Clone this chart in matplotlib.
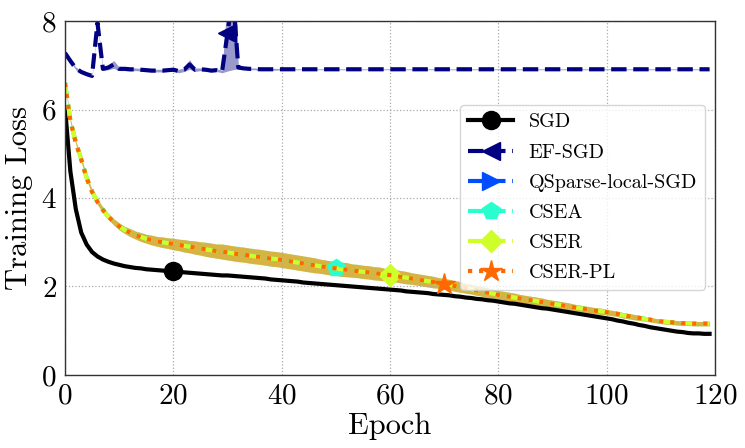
import matplotlib
matplotlib.use("Agg")
import matplotlib.pyplot as plt
import numpy as np

plt.rcParams["font.family"] = "serif"
plt.rcParams["font.serif"] = ["cmr10"]
plt.rcParams["mathtext.fontset"] = "cm"
plt.rcParams["axes.formatter.use_mathtext"] = True

epochs = list(range(120))

sgd_loss = [
    6.05, 4.60, 3.75, 3.22, 2.95, 2.78, 2.68, 2.61, 2.56, 2.52,
    2.49, 2.46, 2.44, 2.42, 2.41, 2.39, 2.38, 2.37, 2.36, 2.35,
    2.34, 2.33, 2.32, 2.31, 2.30, 2.29, 2.28, 2.27, 2.26, 2.25,
    2.25, 2.24, 2.23, 2.22, 2.21, 2.20, 2.19, 2.18, 2.16, 2.15,
    2.14, 2.13, 2.12, 2.11, 2.09, 2.08, 2.07, 2.06, 2.05, 2.04,
    2.03, 2.02, 2.01, 2.00, 1.99, 1.98, 1.97, 1.96, 1.95, 1.94,
    1.93, 1.92, 1.91, 1.89, 1.88, 1.87, 1.86, 1.85, 1.83, 1.82,
    1.81, 1.80, 1.78, 1.77, 1.75, 1.74, 1.72, 1.71, 1.69, 1.68,
    1.66, 1.64, 1.62, 1.61, 1.59, 1.57, 1.55, 1.53, 1.51, 1.50,
    1.48, 1.46, 1.44, 1.42, 1.40, 1.38, 1.36, 1.34, 1.32, 1.30,
    1.28, 1.26, 1.23, 1.21, 1.18, 1.16, 1.13, 1.11, 1.08, 1.06,
    1.04, 1.02, 1.00, 0.98, 0.97, 0.95, 0.94, 0.94, 0.93, 0.93,
]

efsgd_loss = [
    7.28, 7.10, 6.93, 6.85, 6.80, 6.76, 7.96, 6.92, 6.95, 7.02,
    6.92, 6.92, 6.91, 6.91, 6.90, 6.89, 6.88, 6.88, 6.88, 6.89,
    6.90, 6.87, 6.90, 7.02, 6.90, 6.91, 6.90, 6.88, 6.89, 6.86,
    7.72, 8.60, 6.95, 6.93, 6.92, 6.92, 6.91, 6.91, 6.91, 6.91,
    6.91, 6.91, 6.91, 6.91, 6.91, 6.91, 6.91, 6.91, 6.91, 6.91,
    6.91, 6.91, 6.91, 6.91, 6.91, 6.91, 6.91, 6.91, 6.91, 6.91,
    6.91, 6.91, 6.91, 6.91, 6.91, 6.91, 6.91, 6.91, 6.91, 6.91,
    6.91, 6.91, 6.91, 6.91, 6.91, 6.91, 6.91, 6.91, 6.91, 6.91,
    6.91, 6.91, 6.91, 6.91, 6.91, 6.91, 6.91, 6.91, 6.91, 6.91,
    6.91, 6.91, 6.91, 6.91, 6.91, 6.91, 6.91, 6.91, 6.91, 6.91,
    6.91, 6.91, 6.91, 6.91, 6.91, 6.91, 6.91, 6.91, 6.91, 6.91,
    6.91, 6.91, 6.91, 6.91, 6.91, 6.91, 6.91, 6.91, 6.91, 6.91,
]
efsgd_std = [
    0.02, 0.02, 0.03, 0.03, 0.03, 0.03, 0.04, 0.04, 0.05, 0.09,
    0.04, 0.04, 0.04, 0.03, 0.03, 0.03, 0.03, 0.03, 0.03, 0.03,
    0.03, 0.04, 0.04, 0.11, 0.04, 0.03, 0.03, 0.03, 0.03, 0.03,
    0.85, 1.70, 0.03, 0.02, 0.02, 0.02, 0.02, 0.02, 0.02, 0.02,
] + [0.01] * 80

# QSparse-local-SGD diverged (NaN loss) -> nothing inside the axes
qsparse_epochs = []
qsparse_loss = []

cser_loss = [
    6.60, 5.75, 5.25, 4.88, 4.45, 4.15, 3.92, 3.73, 3.58, 3.46,
    3.36, 3.28, 3.22, 3.16, 3.12, 3.08, 3.05, 3.02, 3.00, 2.98,
    2.96, 2.94, 2.92, 2.90, 2.88, 2.86, 2.84, 2.82, 2.80, 2.79,
    2.77, 2.75, 2.73, 2.72, 2.70, 2.68, 2.67, 2.65, 2.63, 2.62,
    2.60, 2.58, 2.56, 2.54, 2.52, 2.50, 2.48, 2.46, 2.44, 2.42,
    2.41, 2.39, 2.38, 2.36, 2.35, 2.33, 2.32, 2.30, 2.29, 2.27,
    2.26, 2.24, 2.22, 2.20, 2.18, 2.16, 2.14, 2.12, 2.10, 2.08,
    2.06, 2.04, 2.01, 1.99, 1.96, 1.94, 1.91, 1.89, 1.86, 1.84,
    1.81, 1.79, 1.77, 1.75, 1.73, 1.71, 1.69, 1.67, 1.65, 1.63,
    1.61, 1.59, 1.57, 1.55, 1.53, 1.51, 1.49, 1.47, 1.45, 1.44,
    1.42, 1.40, 1.38, 1.35, 1.33, 1.31, 1.29, 1.27, 1.25, 1.23,
    1.21, 1.20, 1.19, 1.18, 1.17, 1.17, 1.16, 1.16, 1.16, 1.16,
]
csea_loss = [
    6.61, 5.76, 5.26, 4.88, 4.46, 4.15, 3.92, 3.74, 3.58, 3.46,
    3.36, 3.28, 3.22, 3.17, 3.12, 3.08, 3.05, 3.02, 3.00, 2.98,
    2.96, 2.94, 2.92, 2.90, 2.88, 2.86, 2.84, 2.82, 2.80, 2.79,
    2.77, 2.75, 2.74, 2.72, 2.70, 2.69, 2.67, 2.65, 2.63, 2.62,
    2.60, 2.58, 2.56, 2.54, 2.52, 2.50, 2.48, 2.46, 2.44, 2.42,
    2.41, 2.39, 2.38, 2.36, 2.35, 2.33, 2.32, 2.30, 2.29, 2.27,
    2.26, 2.24, 2.22, 2.20, 2.18, 2.16, 2.14, 2.12, 2.10, 2.08,
    2.06, 2.04, 2.01, 1.99, 1.96, 1.94, 1.91, 1.89, 1.86, 1.84,
    1.81, 1.79, 1.77, 1.75, 1.73, 1.71, 1.69, 1.67, 1.65, 1.63,
    1.61, 1.59, 1.57, 1.55, 1.53, 1.51, 1.49, 1.47, 1.45, 1.44,
    1.42, 1.40, 1.38, 1.35, 1.33, 1.31, 1.29, 1.27, 1.25, 1.23,
    1.21, 1.20, 1.19, 1.18, 1.17, 1.17, 1.16, 1.16, 1.16, 1.16,
]
cserpl_loss = [
    6.60, 5.74, 5.25, 4.87, 4.45, 4.14, 3.91, 3.73, 3.58, 3.46,
    3.36, 3.28, 3.22, 3.16, 3.12, 3.08, 3.05, 3.02, 3.00, 2.98,
    2.96, 2.94, 2.92, 2.90, 2.88, 2.86, 2.84, 2.82, 2.80, 2.79,
    2.77, 2.75, 2.73, 2.72, 2.70, 2.68, 2.67, 2.65, 2.63, 2.62,
    2.60, 2.58, 2.56, 2.54, 2.52, 2.50, 2.48, 2.46, 2.44, 2.42,
    2.41, 2.39, 2.38, 2.36, 2.35, 2.33, 2.32, 2.30, 2.29, 2.27,
    2.26, 2.24, 2.22, 2.20, 2.18, 2.16, 2.14, 2.12, 2.10, 2.08,
    2.06, 2.04, 2.01, 1.99, 1.96, 1.94, 1.91, 1.89, 1.86, 1.84,
    1.81, 1.79, 1.77, 1.75, 1.73, 1.71, 1.69, 1.67, 1.65, 1.63,
    1.61, 1.59, 1.57, 1.55, 1.53, 1.51, 1.49, 1.47, 1.45, 1.44,
    1.42, 1.40, 1.38, 1.35, 1.33, 1.31, 1.29, 1.27, 1.25, 1.23,
    1.21, 1.20, 1.19, 1.18, 1.17, 1.17, 1.16, 1.16, 1.16, 1.16,
]
# spread over runs, shared by the three CSE* curves
cse_std = [
    0.03, 0.04, 0.04, 0.05, 0.05, 0.05, 0.06, 0.06, 0.07, 0.07,
    0.08, 0.08, 0.09, 0.09, 0.10, 0.10, 0.11, 0.11, 0.12, 0.12,
    0.13, 0.13, 0.14, 0.14, 0.15, 0.15, 0.16, 0.16, 0.16, 0.17,
    0.17, 0.17, 0.17, 0.17, 0.17, 0.17, 0.17, 0.17, 0.17, 0.17,
    0.17, 0.17, 0.17, 0.17, 0.17, 0.17, 0.17, 0.16, 0.16, 0.16,
    0.16, 0.16, 0.16, 0.15, 0.15, 0.15, 0.15, 0.15, 0.15, 0.14,
    0.14, 0.14, 0.14, 0.14, 0.13, 0.13, 0.13, 0.13, 0.13, 0.12,
    0.12, 0.12, 0.12, 0.12, 0.11, 0.11, 0.11, 0.11, 0.11, 0.10,
    0.10, 0.10, 0.10, 0.10, 0.09, 0.09, 0.09, 0.09, 0.09, 0.08,
    0.08, 0.08, 0.08, 0.08, 0.07, 0.07, 0.07, 0.07, 0.07, 0.07,
    0.06, 0.06, 0.06, 0.06, 0.06, 0.06, 0.06, 0.05, 0.05, 0.05,
    0.05, 0.05, 0.05, 0.05, 0.05, 0.05, 0.05, 0.05, 0.05, 0.05,
]

jet = plt.cm.jet
fig = plt.figure(figsize=(7.45, 4.48), dpi=100)
ax = fig.add_axes([0.0872, 0.163, 0.8725, 0.790])

lw = 3
ms = 13

ax.plot(epochs, sgd_loss, color="black", lw=lw, marker="o", ms=ms,
        markevery=[20], label="SGD")

lo = np.array(efsgd_loss) - np.array(efsgd_std)
hi = np.array(efsgd_loss) + np.array(efsgd_std)
ax.fill_between(epochs, lo, hi, color=jet(0.0), alpha=0.4, lw=0)
ax.plot(epochs, efsgd_loss, color=jet(0.0), lw=lw, ls="--", marker="<",
        ms=ms, markevery=[30], label="EF-SGD")

ax.plot(qsparse_epochs, qsparse_loss, color=jet(0.2), lw=lw, ls="--",
        marker=">", ms=ms, label="QSparse-local-SGD")

series = [
    (csea_loss, jet(0.4), "--", "p", 50, "CSEA"),
    (cser_loss, jet(0.6), "--", "D", 60, "CSER"),
    (cserpl_loss, jet(0.8), ":", "*", 70, "CSER-PL"),
]
std = np.array(cse_std)
for loss, col, ls, mk, at, name in series:
    loss = np.array(loss)
    ax.fill_between(epochs, loss - std, loss + std, color=col, alpha=0.5, lw=0)
    ax.plot(epochs, loss, color=col, lw=lw, ls=ls, marker=mk,
            ms=ms + (3 if mk == "*" else 0) - (2 if mk == "D" else 0),
            markevery=[at], label=name)

ax.set_xlim(0, 120)
ax.set_ylim(0, 8)
ax.set_xticks([0, 20, 40, 60, 80, 100, 120])
ax.set_yticks([0, 2, 4, 6, 8])
ax.tick_params(labelsize=21, length=0, pad=6)
ax.grid(True, ls=":", color="#aaaaaa", lw=0.9)
for s in ax.spines.values():
    s.set_color("#333333")
    s.set_linewidth(1.0)

ax.set_xlabel("Epoch", fontsize=22, labelpad=2)
ax.set_ylabel("Training Loss", fontsize=22, labelpad=6)

ax.legend(loc="upper right", bbox_to_anchor=(0.985, 0.762), borderaxespad=0,
          fontsize=14.5, handlelength=2.2, labelspacing=0.6, framealpha=0.8)

fig.savefig("out.png", dpi=100)
